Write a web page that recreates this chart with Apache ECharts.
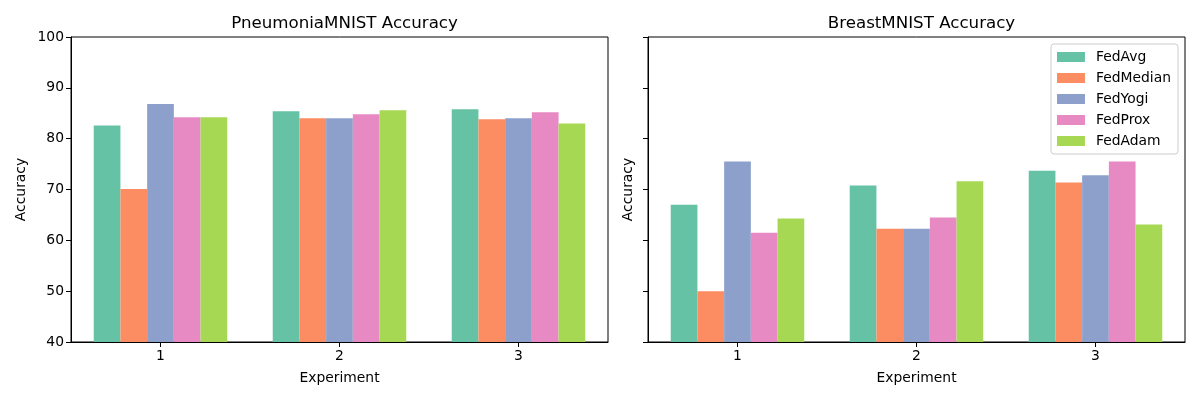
<!DOCTYPE html>
<html><head><meta charset="utf-8">
<script src="https://cdn.jsdelivr.net/npm/echarts@6/dist/echarts.min.js"></script>
<style>html,body{margin:0;padding:0;background:#fff}#c{width:1200px;height:400px}</style>
</head><body><div id="c"></div>
<script>
const categories = ['1', '2', '3'];
const methods = ['FedAvg', 'FedMedian', 'FedYogi', 'FedProx', 'FedAdam'];
const colors = ['#66c2a5', '#fc8d62', '#8da0cb', '#e78ac3', '#a6d854'];
const pneumoniaFedAvg = [82.6, 85.4, 85.8];
const pneumoniaFedMedian = [70.1, 84.0, 83.8];
const pneumoniaFedYogi = [86.8, 84.0, 84.0];
const pneumoniaFedProx = [84.2, 84.8, 85.2];
const pneumoniaFedAdam = [84.2, 85.6, 83.0];
const breastFedAvg = [67.0, 70.8, 73.7];
const breastFedMedian = [50.0, 62.3, 71.4];
const breastFedYogi = [75.5, 62.3, 72.8];
const breastFedProx = [61.5, 64.5, 75.5];
const breastFedAdam = [64.3, 71.6, 63.1];
const yTicks = [40, 50, 60, 70, 80, 90, 100];

const pneu = [pneumoniaFedAvg, pneumoniaFedMedian, pneumoniaFedYogi, pneumoniaFedProx, pneumoniaFedAdam];
const breast = [breastFedAvg, breastFedMedian, breastFedYogi, breastFedProx, breastFedAdam];
const FONT = 'DejaVu Sans';
const chart = echarts.init(document.getElementById('c'), null, {renderer: 'canvas'});

function xAx(i) {
  return {
    type: 'category', gridIndex: i, data: categories,
    name: 'Experiment', nameLocation: 'middle', nameGap: 29,
    nameTextStyle: {fontFamily: FONT, fontSize: 13.89, color: '#000'},
    axisLine: {show: true, lineStyle: {color: '#000', width: 1}},
    axisTick: {show: true, alignWithLabel: true, length: 5, lineStyle: {color: '#000'}},
    axisLabel: {fontFamily: FONT, fontSize: 13.89, color: '#000', margin: 7},
    splitLine: {show: false}
  };
}
function yAx(i, labels) {
  return {
    type: 'value', gridIndex: i, min: yTicks[0], max: yTicks[yTicks.length - 1], interval: 10,
    name: 'Accuracy', nameLocation: 'middle', nameGap: labels ? 43 : 13,
    nameTextStyle: {fontFamily: FONT, fontSize: 13.89, color: '#000'},
    axisLine: {show: true, lineStyle: {color: '#000', width: 1}},
    axisTick: {show: true, length: 5, lineStyle: {color: '#000'}},
    axisLabel: {show: labels, fontFamily: FONT, fontSize: 13.89, color: '#000', margin: 7},
    splitLine: {show: false}
  };
}
const series = [];
[pneu, breast].forEach((set, gi) => {
  set.forEach((vals, k) => {
    series.push({
      type: 'bar', name: methods[k], xAxisIndex: gi, yAxisIndex: gi, data: vals,
      itemStyle: {color: colors[k]}, barGap: '0%', barCategoryGap: '25.4%',
      emphasis: {disabled: true}
    });
  });
});
chart.setOption({
  animation: false,
  color: colors,
  title: [
    {text: 'PneumoniaMNIST Accuracy', left: 339.5, top: 10, textAlign: 'center',
     textStyle: {fontFamily: FONT, fontSize: 16.67, fontWeight: 'normal', color: '#000'}},
    {text: 'BreastMNIST Accuracy', left: 916.5, top: 10, textAlign: 'center',
     textStyle: {fontFamily: FONT, fontSize: 16.67, fontWeight: 'normal', color: '#000'}}
  ],
  legend: {
    data: methods, orient: 'vertical', right: 22, top: 44, z: 10,
    itemWidth: 28, itemHeight: 10, itemGap: 7,
    padding: [6, 7, 6, 6],
    backgroundColor: 'rgba(255,255,255,0.8)', borderColor: '#cccccc', borderWidth: 1, borderRadius: 3,
    textStyle: {fontFamily: FONT, fontSize: 13.89, color: '#000', padding: [0, 0, 0, 6]},
    icon: 'rect', selectedMode: false
  },
  grid: [
    {left: 71, top: 37, width: 537, height: 305, show: true, borderColor: '#000', borderWidth: 1, backgroundColor: 'transparent'},
    {left: 648, top: 37, width: 537, height: 305, show: true, borderColor: '#000', borderWidth: 1, backgroundColor: 'transparent'}
  ],
  xAxis: [xAx(0), xAx(1)],
  yAxis: [yAx(0, true), yAx(1, false)],
  series: series
});
</script></body></html>
